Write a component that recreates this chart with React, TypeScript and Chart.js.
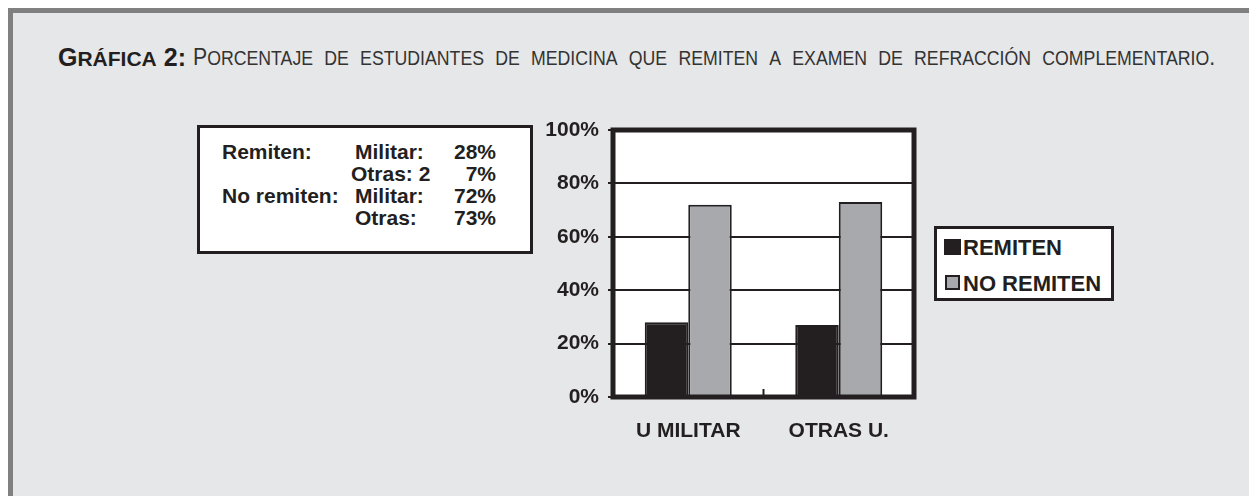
import React, { useEffect, useRef } from "react";
import { Chart, registerables } from "chart.js";

Chart.register(...registerables);

// ---- data ----
const categories = ["U MILITAR", "OTRAS U."];
const seriesNames = ["REMITEN", "NO REMITEN"];
const remiten = [28, 27];
const noRemiten = [72, 73];
const yTicks = [0, 20, 40, 60, 80, 100];

const titleBold = "Gráfica 2:";
const titleRest = "Porcentaje de estudiantes de medicina que remiten a examen de refracción complementario.";

const boxLabels = ["Remiten:", "", "No remiten:", ""];
const boxGroups = ["Militar:", "Otras: 2", "Militar:", "Otras:"];
const boxValues = ["28%", "7%", "72%", "73%"];

// ---- styles ----
const INK = "#231f20";
const GRAY = "#a7a9ac";
const FONT = '"Liberation Sans", Arial, Helvetica, sans-serif';

function SmallCaps({ text, big, small, weight }: { text: string; big: number; small: number; weight: number }) {
  const parts: { t: string; lower: boolean }[] = [];
  for (const ch of text) {
    const lower = ch !== ch.toUpperCase();
    const last = parts[parts.length - 1];
    if (last && last.lower === lower) last.t += ch;
    else parts.push({ t: ch, lower });
  }
  return (
    <>
      {parts.map((p, i) => (
        <span
          key={i}
          style={{
            fontSize: p.lower ? small : big,
            textTransform: p.lower ? "uppercase" : "none",
            fontWeight: weight,
          }}
        >
          {p.t}
        </span>
      ))}
    </>
  );
}

const framePlugin = {
  id: "framePlugin",
  beforeDraw(chart: any) {
    const { ctx, chartArea: a } = chart;
    ctx.save();
    ctx.fillStyle = "#ffffff";
    ctx.fillRect(a.left, a.top, a.right - a.left, a.bottom - a.top);
    ctx.restore();
  },
  afterDatasetsDraw(chart: any) {
    const { ctx, chartArea: a } = chart;
    const xs = chart.scales.x;
    ctx.save();
    ctx.strokeStyle = INK;
    ctx.lineWidth = 5;
    ctx.strokeRect(a.left, a.top, a.right - a.left, a.bottom - a.top);
    const mid = (xs.getPixelForValue(0) + xs.getPixelForValue(1)) / 2;
    ctx.lineWidth = 2;
    ctx.beginPath();
    ctx.moveTo(mid, a.bottom);
    ctx.lineTo(mid, a.bottom - 8);
    ctx.stroke();
    ctx.restore();
  },
};

export default function App() {
  const canvasRef = useRef<HTMLCanvasElement | null>(null);

  useEffect(() => {
    if (!canvasRef.current) return;
    const chart = new Chart(canvasRef.current, {
      type: "bar",
      data: {
        labels: categories,
        datasets: [
          {
            label: seriesNames[0],
            data: remiten,
            backgroundColor: INK,
            borderColor: INK,
            borderWidth: 2,
          },
          {
            label: seriesNames[1],
            data: noRemiten,
            backgroundColor: GRAY,
            borderColor: INK,
            borderWidth: 2,
          },
        ],
      },
      options: {
        animation: false,
        responsive: false,
        maintainAspectRatio: false,
        layout: { padding: { top: 15, right: 6, left: 0, bottom: 0 } },
        datasets: { bar: { categoryPercentage: 0.578, barPercentage: 1.0 } },
        plugins: {
          legend: { display: false },
          tooltip: { enabled: false },
          title: { display: false },
        },
        scales: {
          x: {
            afterFit: (s: any) => {
              s.height = 58;
              s.paddingLeft = 0;
              s.paddingRight = 0;
            },
            grid: { display: false, drawTicks: false },
            border: { display: false },
            ticks: {
              color: INK,
              padding: 22,
              font: { family: FONT, weight: "bold", size: 21 },
            },
          },
          y: {
            min: 0,
            max: 100,
            afterFit: (s: any) => {
              s.width = 73;
              s.paddingTop = 0;
              s.paddingBottom = 0;
            },
            afterBuildTicks: (s: any) => {
              s.ticks = yTicks.map((v) => ({ value: v }));
            },
            grid: { color: INK, lineWidth: 2, tickLength: 5, drawTicks: true },
            border: { display: false },
            ticks: {
              color: INK,
              padding: 9,
              font: { family: FONT, weight: "bold", size: 21 },
              callback: (v: any) => v + "%",
            },
          },
        },
      },
      plugins: [framePlugin],
    });
    return () => chart.destroy();
  }, []);

  const rowTops = [13, 35, 57, 79];

  return (
    <div style={{ position: "absolute", left: 0, top: 0, width: 1249, height: 496, overflow: "hidden", background: "#ffffff" }}>
      <div
        style={{
          position: "absolute",
          left: 8,
          top: 8,
          width: 1241,
          height: 488,
          borderTop: "5px solid #808080",
          borderLeft: "5px solid #808080",
          background: "#e6e7e8",
        }}
      />
      {/* title */}
      <div
        style={{
          position: "absolute",
          left: 58,
          top: 45,
          whiteSpace: "nowrap",
          fontFamily: FONT,
          lineHeight: "24px",
          color: INK,
        }}
      >
        <SmallCaps text={titleBold} big={25} small={21} weight={700} />
      </div>
      <div
        style={{
          position: "absolute",
          left: 193,
          top: 45,
          whiteSpace: "nowrap",
          fontFamily: FONT,
          lineHeight: "24px",
          color: "#333333",
          wordSpacing: 6,
          transformOrigin: "left center",
          transform: "scaleX(0.885)",
        }}
      >
        <SmallCaps text={titleRest} big={24} small={20} weight={400} />
      </div>

      {/* data text box */}
      <div
        style={{
          position: "absolute",
          left: 197,
          top: 125,
          width: 336,
          height: 129,
          boxSizing: "border-box",
          border: "3px solid " + INK,
          background: "#ffffff",
          fontFamily: FONT,
          fontWeight: 700,
          fontSize: 21,
          lineHeight: "21px",
          color: INK,
        }}
      >
        {boxLabels.map((lab, i) => (
          <React.Fragment key={i}>
            {lab && (
              <span style={{ position: "absolute", left: 22, top: rowTops[i], whiteSpace: "nowrap" }}>{lab}</span>
            )}
            <span style={{ position: "absolute", left: i === 1 ? 151 : 155, top: rowTops[i], whiteSpace: "nowrap" }}>
              {boxGroups[i]}
            </span>
            <span style={{ position: "absolute", right: 34, top: rowTops[i], whiteSpace: "nowrap" }}>
              {boxValues[i]}
            </span>
          </React.Fragment>
        ))}
      </div>

      {/* chart */}
      <div style={{ position: "absolute", left: 540, top: 115, width: 380, height: 340 }}>
        <canvas ref={canvasRef} width={380} height={340} style={{ width: 380, height: 340 }} />
      </div>

      {/* legend */}
      <div
        style={{
          position: "absolute",
          left: 934,
          top: 226,
          width: 180,
          height: 75,
          boxSizing: "border-box",
          border: "3px solid " + INK,
          background: "#ffffff",
          fontFamily: FONT,
          fontWeight: 700,
          fontSize: 22,
          lineHeight: "22px",
          color: INK,
        }}
      >
        <div style={{ position: "absolute", left: 7, top: 10, width: 17, height: 16, background: INK }} />
        <span style={{ position: "absolute", left: 26, top: 8, whiteSpace: "nowrap" }}>{seriesNames[0]}</span>
        <div
          style={{
            position: "absolute",
            left: 8,
            top: 46,
            width: 15,
            height: 15,
            boxSizing: "border-box",
            border: "2px solid " + INK,
            background: GRAY,
          }}
        />
        <span style={{ position: "absolute", left: 26, top: 44, whiteSpace: "nowrap" }}>{seriesNames[1]}</span>
      </div>
    </div>
  );
}
